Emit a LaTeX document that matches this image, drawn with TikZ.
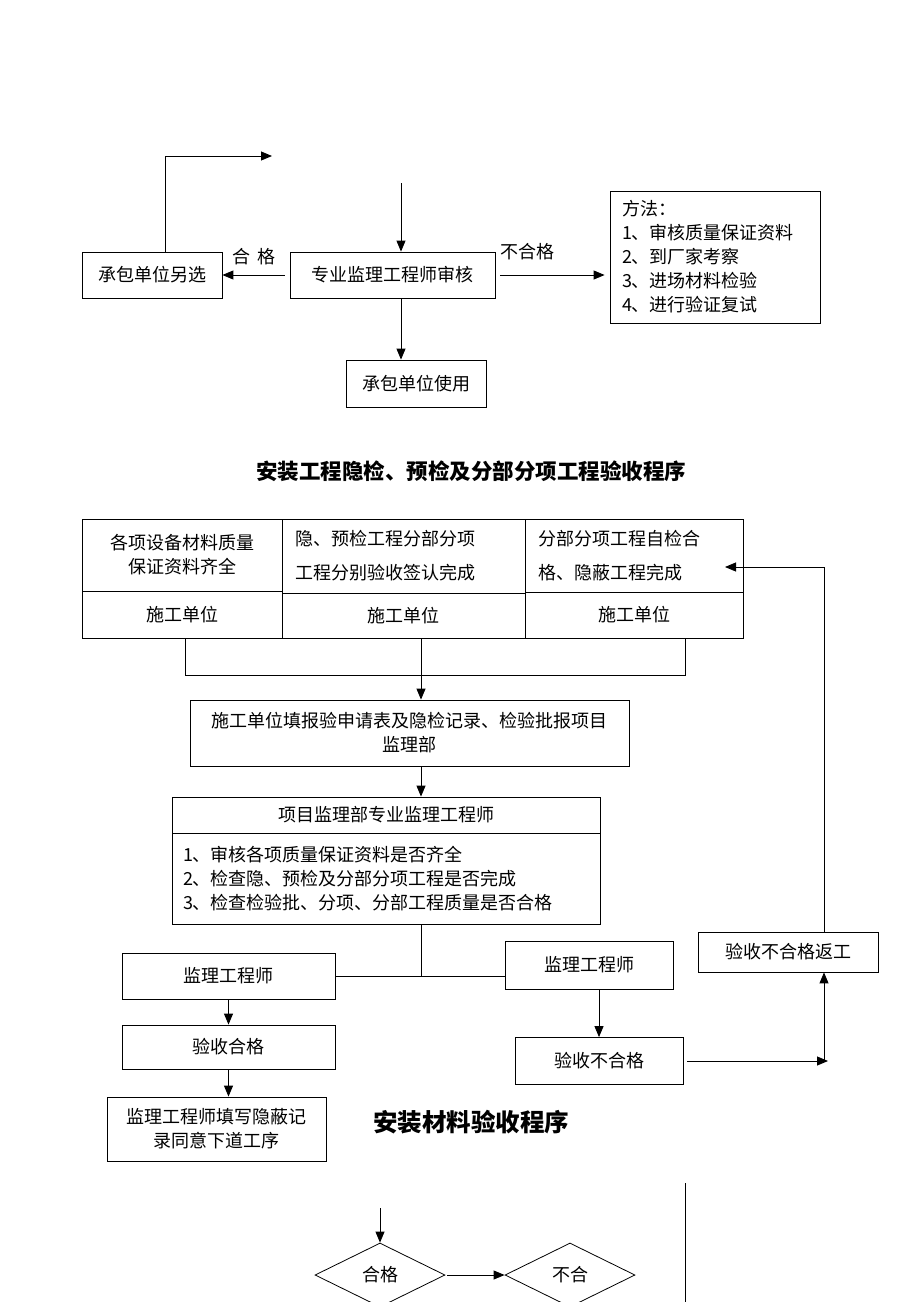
\documentclass[tikz,border=0pt]{standalone}
\usepackage{fontspec}
\setmainfont{Noto Sans CJK SC}
\usetikzlibrary{shapes.geometric,arrows.meta,calc}
\begin{document}
\begin{tikzpicture}[x=1pt,y=-1pt,
  box/.style={draw, line width=0.8pt, inner sep=0pt, font=\fontsize{18}{24}\selectfont, align=center},
  arr/.style={-{Triangle[length=11pt,width=9pt]}, line width=0.9pt},
  ln/.style={line width=0.8pt},
  ttl/.style={font=\bfseries\fontsize{21.5}{26}\selectfont, inner sep=0pt},
  ttlb/.style={font=\bfseries\fontsize{24.5}{28}\selectfont, inner sep=0pt},
  lbl/.style={font=\fontsize{18}{24}\selectfont, inner sep=0pt},
  dia/.style={draw, diamond, line width=0.8pt, inner sep=0pt, minimum width=130pt, minimum height=64pt, font=\fontsize{18}{24}\selectfont}
]
\fill[white] (0,0) rectangle (920,1302);
\useasboundingbox (0,0) rectangle (920,1302);
\clip (0,0) rectangle (920,1302);

% ---- section 1 ----
\node[box, minimum width=140pt, minimum height=46pt] (n1) at (152,275) {承包单位另选};
\node[box, minimum width=205pt, minimum height=46pt] (n2) at (392.5,275) {专业监理工程师审核};
\node[box, minimum width=210pt, minimum height=132pt, text width=186pt, align=left] (n3) at (715,257) {方法：\\1、审核质量保证资料\\2、到厂家考察\\3、进场材料检验\\4、进行验证复试};
\node[box, minimum width=140pt, minimum height=47pt] (n4) at (416,383.5) {承包单位使用};

\coordinate (c0) at (165,252);
\coordinate (c1) at (272,156);
\draw[arr] (c0) |- (c1);
\coordinate (c2) at (401,183);
\draw[arr] (c2) -- (c2 |- n2.north);
\draw[arr, shorten <=5pt] (n2.west) -- (n1.east);
\node[lbl] (l1) at (254,257) {合\hspace{8pt}格};
\draw[arr, shorten <=5pt, shorten >=5pt] (n2.east) -- (n2.east -| n3.west);
\node[lbl] (l2) at (527,252) {不合格};
\draw[arr] (n2.south -| c2) -- (n4.north -| c2);

\node[ttl] (t1) at (471,471) {安装工程隐检、预检及分部分项工程验收程序};

% ---- section 2 ----
\node[box, minimum width=200pt, minimum height=72pt] (a1) at (182,555) {各项设备材料质量\\保证资料齐全};
\node[box, minimum width=243pt, minimum height=74pt, text width=217pt, align=left, font=\fontsize{18}{34}\selectfont] (a2) at (403.5,556) {隐、预检工程分部分项\\工程分别验收签认完成};
\node[box, minimum width=218pt, minimum height=73pt, text width=192pt, align=left, font=\fontsize{18}{34}\selectfont] (a3) at (634,555.5) {分部分项工程自检合\\格、隐蔽工程完成};
\node[box, minimum width=200pt, minimum height=47pt] (b1) at (182,614.5) {施工单位};
\node[box, minimum width=243pt, minimum height=45pt] (b2) at (403.5,615.5) {施工单位};
\node[box, minimum width=218pt, minimum height=46pt] (b3) at (634,615) {施工单位};

\coordinate (j1) at (185,675);
\coordinate (j2) at (685,675);
\draw[ln] (j1 |- b1.south) -- (j1) -- (j2) -- (j2 |- b3.south);

\node[box, minimum width=439pt, minimum height=66pt] (c) at (409.5,733) {施工单位填报验申请表及隐检记录、检验批报项目\\监理部};
\node[box, minimum width=428pt, minimum height=36pt] (d1) at (386,815) {项目监理部专业监理工程师};
\node[box, minimum width=428pt, minimum height=91pt, text width=406pt, align=left] (d2) at (386,878.5) {1、审核各项质量保证资料是否齐全\\2、检查隐、预检及分部分项工程是否完成\\3、检查检验批、分项、分部工程质量是否合格};

\coordinate (j3) at (421,640);
\draw[arr] (j3 |- b2.south) -- (j3 |- c.north);
\draw[arr] (c.south -| j3) -- (d1.north -| j3);

\node[box, minimum width=213pt, minimum height=46pt] (e1) at (228.5,976) {监理工程师};
\node[box, minimum width=168pt, minimum height=48pt] (e2) at (589,965) {监理工程师};
\node[box, minimum width=213pt, minimum height=44pt] (f1) at (228.5,1047) {验收合格};
\node[box, minimum width=219pt, minimum height=64pt] (g1) at (216.5,1129) {监理工程师填写隐蔽记\\录同意下道工序};
\node[box, minimum width=168pt, minimum height=47pt] (f2) at (599,1061) {验收不合格};
\node[box, minimum width=180pt, minimum height=40pt] (h1) at (788,952) {验收不合格返工};

\coordinate (j4) at (j3 |- e1.east);
\draw[ln] (d2.south -| j4) -- (j4);
\draw[ln] (e1.east) -- (e1.east -| e2.west);
\draw[arr] (e1.south) -- (f1.north);
\draw[arr] (f1.south) -- (f1.south |- g1.north);
\draw[arr] (f2.north |- e2.south) -- (f2.north);
\coordinate (k1) at (824,1061);
\coordinate (k2) at (828,1061);
\draw[arr, shorten <=4pt] (f2.east) -- (k2);
\draw[arr] (k1) -- (k1 |- h1.south);
\coordinate (k3) at (725,567);
\draw[arr] (k1 |- h1.north) |- (k3);

\node[ttlb] (t2) at (471,1122) {安装材料验收程序};

% ---- section 3 ----
\node[dia] (m1) at (380,1275) {合格};
\node[dia] (m2) at (570,1275) {不合};
\coordinate (p0) at (380,1208);
\draw[arr] (p0) -- (m1.north);
\draw[arr, shorten <=2pt] (m1.east) -- (m2.west);
\coordinate (v1) at (685,1183);
\coordinate (v2) at (685,1310);
\draw[ln] (v1) -- (v2);
\end{tikzpicture}
\end{document}
